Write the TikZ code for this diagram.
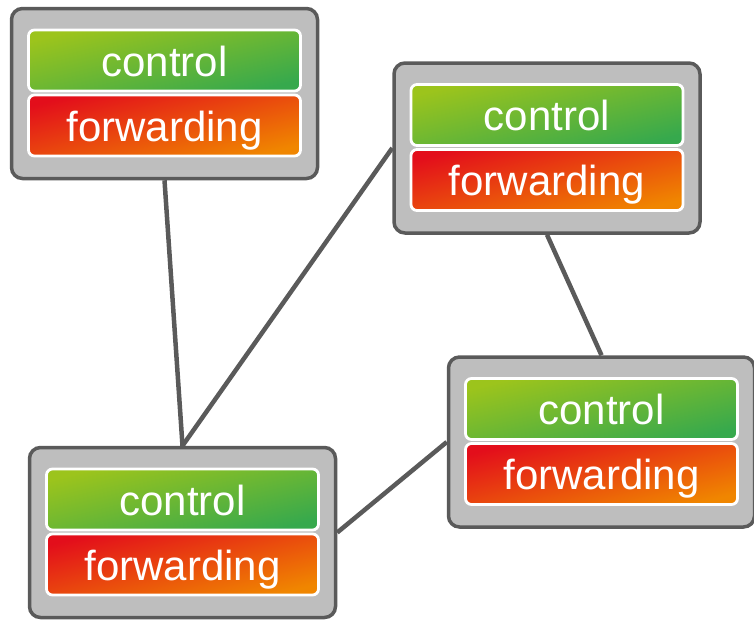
\documentclass[tikz,border=0pt]{standalone}
\usepackage{fontspec}
\setmainfont{Liberation Sans}
\usetikzlibrary{calc,backgrounds}
\begin{document}
\definecolor{boxgray}{HTML}{BEBEBE}
\definecolor{edgegray}{HTML}{5A5A5A}
\definecolor{ctltop}{HTML}{9CC41C}
\definecolor{ctlbot}{HTML}{36A94D}
\definecolor{fwdtop}{HTML}{E30E1B}
\definecolor{fwdbot}{HTML}{F08600}
\begin{tikzpicture}[x=1pt,y=-1pt,
  switchbox/.style={draw=edgegray, line width=3.5pt, fill=boxgray,
    rounded corners=11pt, minimum width=306pt, minimum height=170pt,
    inner sep=0pt},
  plane/.style={draw=white, line width=2.8pt, rounded corners=6pt,
    minimum width=272pt, minimum height=61pt, inner sep=0pt,
    text=white, font=\fontsize{42}{48}\selectfont,
    text height=31pt, text depth=0pt},
  ctlplane/.style={plane, top color=ctltop, bottom color=ctlbot, shading angle=14},
  fwdplane/.style={plane, top color=fwdtop, bottom color=fwdbot, shading angle=14},
  link/.style={draw=edgegray, line width=4.5pt}]
\useasboundingbox (0,0) rectangle (754,619);

% switches: outer box, then control and forwarding planes
\node[switchbox] (s1) at (164.5,93.5) {};
\node[ctlplane] (c1) at ($(s1.center)+(0,-33)$) {control};
\node[fwdplane] (f1) at ($(s1.center)+(0,32)$) {forwarding};

\node[switchbox] (s2) at (547,148) {};
\node[ctlplane] (c2) at ($(s2.center)+(0,-33)$) {control};
\node[fwdplane] (f2) at ($(s2.center)+(0,32)$) {forwarding};

\node[switchbox] (s3) at (601.5,442) {};
\node[ctlplane] (c3) at ($(s3.center)+(0,-33)$) {control};
\node[fwdplane] (f3) at ($(s3.center)+(0,32)$) {forwarding};

\node[switchbox] (s4) at (182.5,532.5) {};
\node[ctlplane] (c4) at ($(s4.center)+(0,-33)$) {control};
\node[fwdplane] (f4) at ($(s4.center)+(0,32)$) {forwarding};

% links between switches, kept behind the boxes
\begin{scope}[on background layer]
\draw[link] (s1.south) -- (s4.north);
\draw[link] (s2.west) -- (s4.north);
\draw[link] (s2.south) -- (s3.north);
\draw[link] (s4.east) -- (s3.west);
\end{scope}
\end{tikzpicture}
\end{document}
